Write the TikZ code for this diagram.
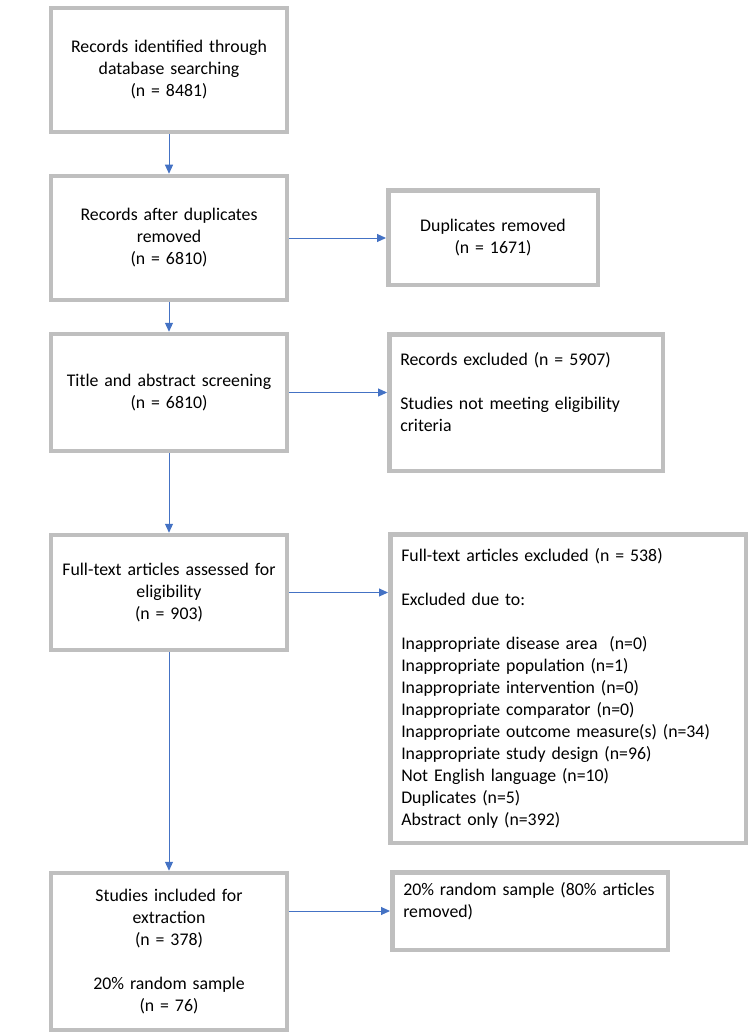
\documentclass[tikz,border=0pt]{standalone}
\usepackage{fontspec}
\setmainfont{Carlito}
\usetikzlibrary{arrows.meta}
\definecolor{boxgray}{RGB}{191,191,191}
\definecolor{flowblue}{RGB}{68,114,196}

\begin{document}
\begin{tikzpicture}[
        x=1pt, y=-1pt,
        box/.style={draw=boxgray, line width=4.5pt, text width=214pt, inner xsep=11pt, align=center, font=\fontsize{17.8}{22}\selectfont},
        sidebox/.style={draw=boxgray, line width=4.5pt, inner xsep=11pt, inner ysep=0pt, align=left, font=\fontsize{17.8}{22}\selectfont},
        arrow/.style={-{Triangle[length=9pt,width=8pt]}, draw=flowblue, line width=1pt}
    ]
        \useasboundingbox (0,0) rectangle (753,1035);

        \node[box, minimum height=124pt] (ident) at (169,70) {Records identified through\\database searching\\(n = 8481)};
        \node[box, minimum height=124pt] (dedup) at (169,238) {Records after duplicates\\removed\\(n = 6810)};
        \node[box, minimum height=117pt] (screen) at (169,392.5) {Title and abstract screening\\(n = 6810)};
        \node[box, minimum height=115pt] (fulltext) at (169,592.5) {Full-text articles assessed for\\eligibility\\(n = 903)};
        \node[box, minimum height=157pt] (incl) at (169,951.5) {Studies included for\\extraction\\(n = 378)\\[22pt]20\% random sample\\(n = 76)};

        \node[box, text width=187.5pt, minimum height=94.5pt] (dupl) at (493,237.5) {Duplicates removed\\(n = 1671)};
        \node[sidebox, text width=251.5pt, minimum height=136.5pt] (excl) at (526,402.5) {Records excluded (n = 5907)\\[22pt]Studies not meeting eligibility\\criteria\\\mbox{}};
        \node[sidebox, text width=333.5pt, minimum height=308.5pt] (ftexcl) at (568,688.5) {Full-text articles excluded (n = 538)\\[22pt]Excluded due to:\\[22pt]Inappropriate disease area~ (n=0)\\Inappropriate population (n=1)\\Inappropriate intervention (n=0)\\Inappropriate comparator (n=0)\\Inappropriate outcome measure(s) (n=34)\\Inappropriate study design (n=96)\\Not English language (n=10)\\Duplicates (n=5)\\Abstract only (n=392)};
        \node[sidebox, text width=253.5pt, minimum height=77.5pt] (sample) at (530,911) {20\% random sample (80\% articles\\removed)\\\mbox{}};

        \draw[arrow] (ident) -- (dedup);
        \draw[arrow] (dedup) -- (screen);
        \draw[arrow] (screen) -- (fulltext);
        \draw[arrow] (fulltext) -- (incl);

        \draw[arrow] (dedup.east) -- (dedup.east -| dupl.west);
        \draw[arrow] (screen.east) -- (screen.east -| excl.west);
        \draw[arrow] (fulltext.east) -- (fulltext.east -| ftexcl.west);
        \draw[arrow] (sample.west -| incl.east) -- (sample.west);
    \end{tikzpicture}
\end{document}
